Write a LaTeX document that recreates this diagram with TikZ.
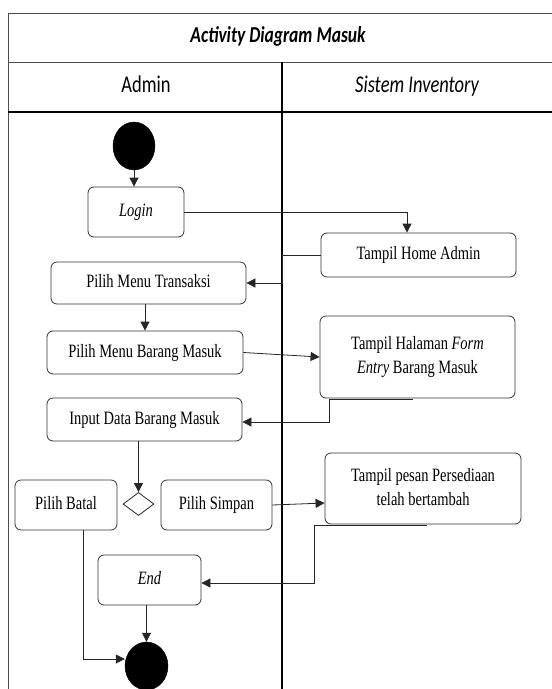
\documentclass[tikz,border=0pt]{standalone}
\usepackage{fontspec}
\setmainfont{Liberation Serif}
\newfontfamily\calfont{Carlito}
\usetikzlibrary{shapes.geometric,arrows.meta,positioning}
\newcommand{\vtxt}[1]{\scalebox{1}[1.3]{\begin{tabular}{@{}c@{}}#1\end{tabular}}}
\begin{document}
\begin{tikzpicture}[x=1pt,y=-1pt,
  actbox/.style={draw=black!80,line width=0.8pt,rounded corners=6pt,align=center,
    font=\fontsize{14.5}{18.5}\selectfont,inner sep=0pt},
  dot/.style={ellipse,fill=black,draw=black,inner sep=0pt},
  conn/.style={draw=black!85,line width=0.8pt},
  arr/.style={conn,-{Triangle[length=9pt,width=9pt]}},
  lane/.style={draw=black!70,line width=0.7pt},
  lanethick/.style={draw=black,line width=1.6pt}]
\useasboundingbox (0,0) rectangle (552,689);
% frame
\draw[lane] (552,13) -- (8,13) -- (8,689);
\draw[lane] (8,62) -- (552,62);
\draw[lanethick] (8,112) -- (552,112);
\draw[lanethick] (282,62) -- (282,689);
\node[font=\calfont\bfseries\itshape\fontsize{17.5}{20}\selectfont] (title) at (278,37) {\vtxt{Activity Diagram Masuk}};
\node[font=\calfont\fontsize{18.5}{21}\selectfont] (hadmin) at (146,87) {\vtxt{Admin}};
\node[font=\calfont\itshape\fontsize{18.5}{21}\selectfont] (hsis) at (417,87) {\vtxt{Sistem Inventory}};
% nodes
\node[dot,minimum width=42pt,minimum height=48pt] (start) at (134,146) {};
\node[actbox,minimum width=96pt,minimum height=50pt] (login) at (136,212) {\vtxt{\itshape Login}};
\node[actbox,minimum width=195pt,minimum height=44pt] (home) at (418.5,255) {\vtxt{Tampil Home Admin}};
\node[actbox,minimum width=195pt,minimum height=42pt] (trans) at (148.5,283) {\vtxt{Pilih Menu Transaksi}};
\node[actbox,minimum width=196pt,minimum height=43pt] (menubm) at (145,352.5) {\vtxt{Pilih Menu Barang Masuk}};
\node[actbox,minimum width=195pt,minimum height=82pt] (form) at (417.5,357) {\raisebox{3pt}{\vtxt{Tampil Halaman \textit{Form}\\\textit{Entry} Barang Masuk}}};
\node[actbox,minimum width=195pt,minimum height=43pt] (input) at (144.5,419.5) {\vtxt{Input Data Barang Masuk}};
\node[diamond,draw=black!85,line width=0.8pt,minimum width=31pt,minimum height=23pt,inner sep=0pt] (dia) at (138.5,504) {};
\node[actbox,minimum width=102pt,minimum height=50pt] (batal) at (66,505) {\vtxt{Pilih Batal}};
\node[actbox,minimum width=111pt,minimum height=50pt] (simpan) at (216.5,505) {\vtxt{Pilih Simpan}};
\node[actbox,minimum width=196pt,minimum height=71pt] (pesan) at (423,488.5) {\vtxt{Tampil pesan Persediaan\\telah bertambah}};
\node[actbox,minimum width=103pt,minimum height=50pt] (end) at (149.5,580) {\vtxt{\itshape End}};
\node[dot,minimum width=43pt,minimum height=48pt] (endc) at (146.5,666) {};
% helper coordinates
\coordinate (k1) at (282,283);
\coordinate (f1) at (413,399);
\coordinate (f2) at (329,399);
\coordinate (f3) at (329,422);
\coordinate (p1) at (427,525);
\coordinate (p2) at (314,525);
\coordinate (p3) at (314,583);
% connectors
\draw[arr] (start.south) -- (start.south |- login.north);
\draw[arr] (login.east) -| ([xshift=-11.5pt]home.north);
\draw[arr] (home.west) -| (k1) -- (trans.east);
\draw[arr] (menubm.north |- trans.south) -- (menubm.north);
\draw[arr] (menubm.east) -- (form.west);
\draw[arr] (f1) -- (f2) -- (f3) -- (input.east |- f3);
\draw[arr] (dia.north |- input.south) -- (dia.north);
\draw[arr] (simpan.east) -- ([yshift=2pt]simpan.east -| pesan.west);
\draw[arr] (p1) -- (p2) -- (p3) -- (end.east |- p3);
\draw[arr] (endc.north |- end.south) -- (endc.north);
\draw[arr] ([xshift=17pt]batal.south) |- ([yshift=7pt]endc.west);
\end{tikzpicture}
\end{document}
